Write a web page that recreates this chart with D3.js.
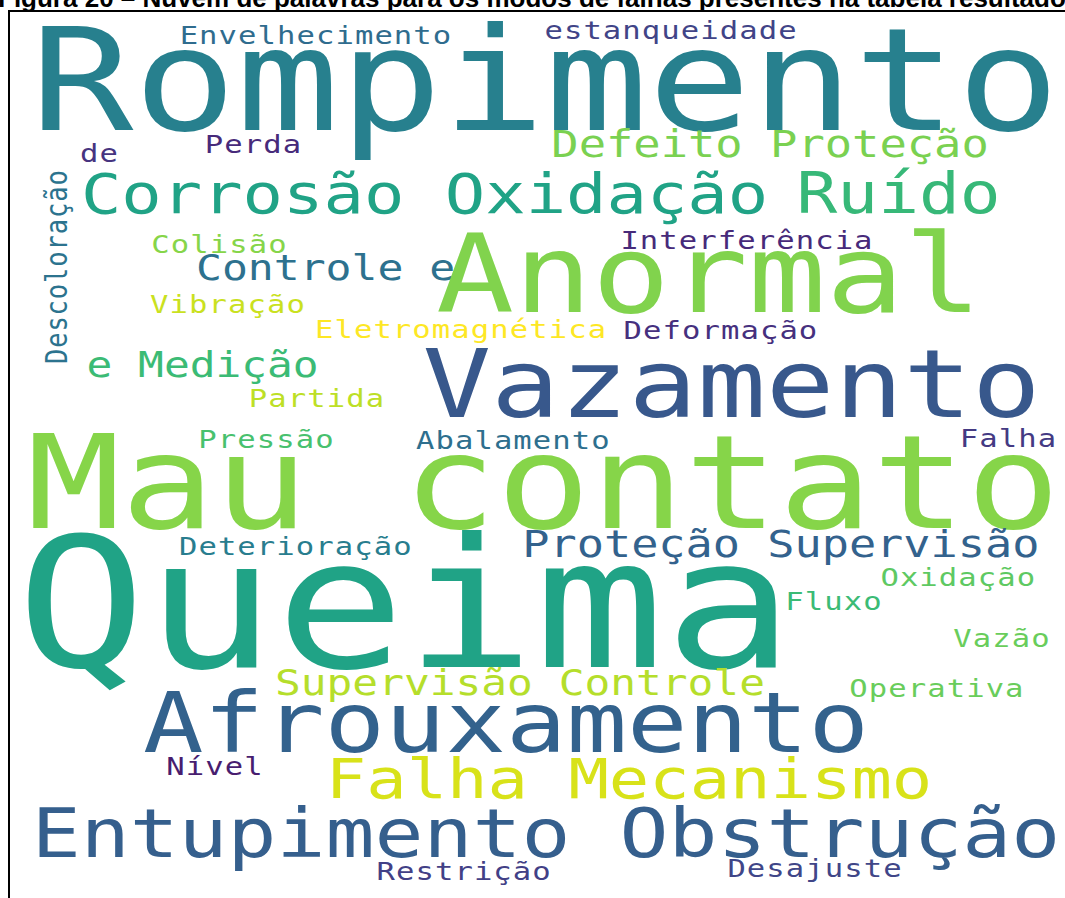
<!DOCTYPE html>
<html>
<head>
<meta charset="utf-8">
<script src="https://cdn.jsdelivr.net/npm/d3@7"></script>
<style>
  html, body { margin: 0; padding: 0; background: #fff; }
  svg { display: block; }
</style>
</head>
<body>
<script>
// ---- data ----
const titleText = "Figura 20 – Nuvem de palavras para os modos de falhas presentes na tabela resultado";

const words = [
  "Rompimento", "Envelhecimento", "estanqueidade", "Perda", "de", "Descoloração",
  "Corrosão Oxidação", "Defeito Proteção", "Ruído", "Colisão", "Controle e", "Anormal",
  "Interferência", "Vibração", "Eletromagnética", "Deformação", "e Medição", "Vazamento",
  "Partida", "Pressão", "Abalamento", "Falha", "Mau contato", "Deterioração",
  "Proteção Supervisão", "Queima", "Oxidação", "Fluxo", "Vazão", "Supervisão Controle",
  "Operativa", "Afrouxamento", "Nível", "Falha Mecanismo", "Entupimento Obstrução",
  "Restrição", "Desajuste"
];

// relative frequency (largest word = 1)
const weights = [
  0.794, 0.142, 0.142, 0.142, 0.142, 0.142,
  0.312, 0.211, 0.315, 0.142, 0.200, 0.602,
  0.142, 0.142, 0.142, 0.142, 0.199, 0.530,
  0.142, 0.142, 0.142, 0.142, 0.725, 0.142,
  0.210, 1.000, 0.142, 0.142, 0.142, 0.199,
  0.142, 0.467, 0.142, 0.312, 0.378,
  0.142, 0.142
];

// position on the viridis colormap
const colorValues = [
  0.43, 0.35, 0.20, 0.12, 0.15, 0.38,
  0.58, 0.80, 0.67, 0.82, 0.37, 0.81,
  0.12, 0.92, 1.00, 0.14, 0.68, 0.27,
  0.90, 0.71, 0.36, 0.17, 0.82, 0.42,
  0.31, 0.58, 0.75, 0.68, 0.77, 0.89,
  0.77, 0.31, 0.08, 0.94, 0.30,
  0.19, 0.21
];

// orientation of each word (degrees)
const rotations = [
  0, 0, 0, 0, 0, -90,
  0, 0, 0, 0, 0, 0,
  0, 0, 0, 0, 0, 0,
  0, 0, 0, 0, 0, 0,
  0, 0, 0, 0, 0, 0,
  0, 0, 0, 0, 0,
  0, 0
];

// word-cloud layout: word centre (x) and baseline (y) in cloud-canvas units
const layoutX = [
  446.7, 255.8, 551.7, 203.8, 75.4, 48.3,
  346.3, 634.2, 741.3, 175.4, 263.8, 583.3,
  615.0, 182.5, 376.7, 593.3, 161.3, 602.1,
  256.7, 214.6, 420.3, 832.9, 445.4, 239.0,
  643.2, 330.0, 791.1, 687.5, 827.5, 425.8,
  773.3, 414.2, 171.7, 516.7, 447.5,
  379.3, 671.7
];
const layoutY = [
  119.0, 32.5, 28.3, 142.3, 150.7, 255.7,
  202.3, 146.3, 202.3, 241.7, 269.0, 300.7,
  238.3, 302.3, 327.3, 328.3, 366.3, 405.7,
  395.7, 437.3, 437.7, 435.7, 517.3, 544.0,
  545.7, 655.7, 575.3, 599.0, 636.3, 684.0,
  685.7, 741.0, 764.0, 787.3, 845.7,
  869.0, 865.7
];

// ---- drawing ----
const W = 1065, H = 898;
const svg = d3.select("body").append("svg")
  .attr("width", W).attr("height", H)
  .attr("viewBox", `0 0 ${W} ${H}`);

svg.append("rect").attr("width", W).attr("height", H).attr("fill", "#fff");

// caption (partly cut off at the top, as in the source)
svg.append("text")
  .attr("x", -2).attr("y", 7)
  .attr("font-family", "'Liberation Sans', Arial, sans-serif")
  .attr("font-weight", "bold")
  .attr("font-size", 26)
  .attr("fill", "#000")
  .text(titleText);

// frame
svg.append("rect")
  .attr("x", 9).attr("y", 11)
  .attr("width", 1200).attr("height", 1000)
  .attr("fill", "none").attr("stroke", "#000").attr("stroke-width", 2);

const stretch = 1.2; // the cloud image is stretched horizontally
const canvasW = 880, canvasH = 887;
const x = d3.scaleLinear().domain([0, canvasW]).range([9, 9 + canvasW * stretch]);
const y = d3.scaleLinear().domain([0, canvasH]).range([11, 11 + canvasH]);
const size = d3.scaleLinear().domain([0, 1]).range([0, 179.4]);

const data = words.map((w, i) => ({
  text: w, weight: weights[i], c: colorValues[i], rot: rotations[i],
  lx: layoutX[i], ly: layoutY[i]
}));

svg.append("g").selectAll("text")
  .data(data)
  .join("text")
  .attr("transform", d => `translate(${x(d.lx)},${y(d.ly)}) scale(${stretch},1)` + (d.rot ? ` rotate(${d.rot})` : ""))
  .attr("text-anchor", "middle")
  .attr("font-family", "'DejaVu Sans Mono', monospace")
  .attr("font-size", d => size(d.weight))
  .attr("letter-spacing", d => size(d.weight) < 30 ? 0.9 : 0)
  .attr("fill", d => d3.interpolateViridis(d.c))
  .text(d => d.text);
</script>
</body>
</html>
